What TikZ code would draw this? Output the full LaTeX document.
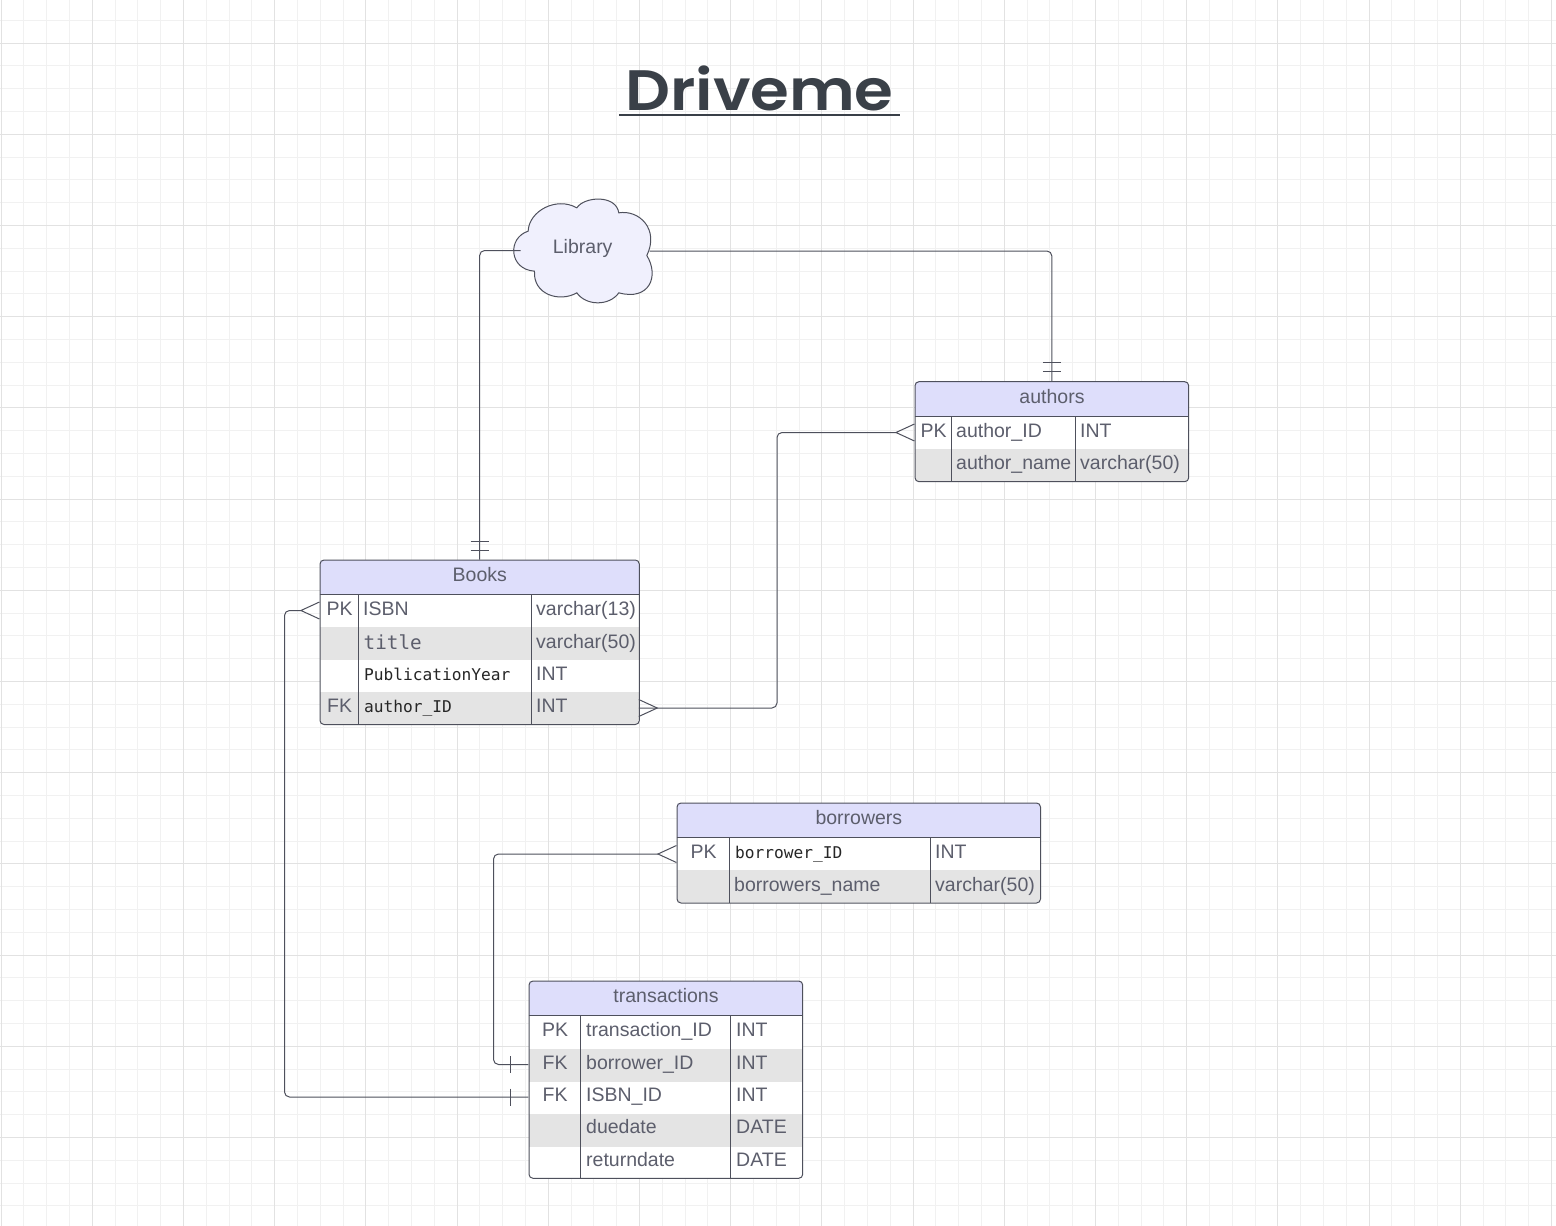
\documentclass[tikz,border=0pt]{standalone}
\usepackage{fontspec}
\usepackage{graphicx}
\setmainfont{Liberation Sans}
\newfontfamily\dvmono{DejaVu Sans Mono}
\newfontfamily\titlefont{Poppins SemiBold}
\definecolor{inkc}{HTML}{5C5E6C}
\definecolor{linec}{HTML}{4E505C}
\definecolor{headc}{HTML}{DEDEFB}
\definecolor{shadec}{HTML}{E4E4E4}
\definecolor{cloudc}{HTML}{F0F0FD}
\definecolor{titlec}{HTML}{3A4048}
\definecolor{gridminor}{HTML}{F1F1F1}
\definecolor{gridmajor}{HTML}{E2E2E2}
\newcounter{cellno}
\tikzset{
  erframe/.style={draw=linec,line width=1pt,rounded corners=4pt,inner sep=0pt,anchor=north west},
  errow/.style={inner sep=0pt,outer sep=0pt,anchor=center},
  txt/.style={text=inkc,font=\fontsize{19.5pt}{22pt}\selectfont,inner sep=0pt,outer sep=0pt,xshift=0.7pt,yshift=-0.3pt},
  cellL/.style={txt,anchor=base west},
  cellC/.style={txt,anchor=base},
  monoS/.style={cellL,text=black!85,font=\dvmono\fontsize{16.2pt}{19pt}\selectfont},
  monoB/.style={cellL,font=\dvmono\fontsize{19.3pt}{22pt}\selectfont},
  conn/.style={draw=linec,line width=1pt,rounded corners=5pt},
  termmark/.style={draw=linec,line width=1pt}
}
% name, x, y, w, h, header bottom, "col1/col2", shaded rows
\newcommand\ertable[8]{%
  \begin{scope}
    \clip[rounded corners=4pt] (#2,#3) rectangle ++(#4,#5);
    \fill[white] (#2,#3) rectangle ++(#4,#5);
    \fill[headc] (#2,#3) rectangle ++(#4,#6-#3);
    \foreach \a/\b in {#8}{\fill[shadec] (#2,\a) rectangle ++(#4,\b-\a);}
  \end{scope}
  \draw[linec,line width=1pt] (#2,#6) -- ++(#4,0);
  \foreach \c in {#7}{\draw[linec,line width=1pt] (\c,#6) -- (\c,#3+#5);}
  \node[erframe,minimum width=#4pt,minimum height=#5pt] (#1) at (#2,#3) {};
}
\newcommand\rownode[5]{\node[errow,minimum width=#4pt,minimum height=#5pt] (#1) at (#2,#3) {};}
\newcommand\cl[3]{\stepcounter{cellno}\node[cellL,name=t\thecellno] at (#1,#2) {#3};}
\newcommand\cc[3]{\stepcounter{cellno}\node[cellC,name=t\thecellno] at (#1,#2) {#3};}
\newcommand\ms[3]{\stepcounter{cellno}\node[monoS,name=t\thecellno] at (#1,#2) {#3};}
\newcommand\mb[3]{\stepcounter{cellno}\node[monoB,name=t\thecellno] at (#1,#2) {#3};}
\begin{document}
\begin{tikzpicture}[x=1pt,y=-1pt]
\useasboundingbox (0,0) rectangle (1556,1226);
\fill[white] (0,0) rectangle (1556,1226);
\begin{scope}[xshift=-0.5pt,yshift=0.5pt]
% grid
\foreach \i in {0,...,68}{\draw[gridminor,line width=1pt] ({1.5+22.8*\i},0) -- ({1.5+22.8*\i},1226);}
\foreach \i in {0,...,54}{\draw[gridminor,line width=1pt] (0,{-2.1+22.8*\i}) -- (1557,{-2.1+22.8*\i});}
\foreach \i in {0,...,17}{\draw[gridmajor,line width=1pt] ({1.5+91.2*\i},0) -- ({1.5+91.2*\i},1226);}
\foreach \i in {0,...,13}{\draw[gridmajor,line width=1pt] (0,{43.5+91.2*\i}) -- (1557,{43.5+91.2*\i});}
% title
\node[text=titlec,inner sep=0pt,outer sep=0pt,anchor=base,font=\titlefont\fontsize{57pt}{57pt}\selectfont] (title) at (760,111) {\scalebox{1.1}[1]{Driveme}};
\fill[titlec] (619.5,114) rectangle (900.5,116.5);
% cloud
\begin{scope}[shift={(460,180)},x=0.3333pt,y=-0.3333pt]
\draw[fill=cloudc,draw=linec,line width=1pt]
 (206,155) .. controls (208,95) and (290,50) .. (352,85)
 .. controls (375,50) and (470,45) .. (478,100)
 .. controls (540,90) and (600,150) .. (562,228)
 .. controls (600,290) and (570,365) .. (478,340)
 .. controls (450,380) and (380,380) .. (352,340)
 .. controls (300,370) and (220,345) .. (225,275)
 .. controls (148,270) and (143,175) .. (206,155) -- cycle;
\end{scope}
\node[cellC] (library) at (582.5,254) {Library};
\coordinate (libL) at (521,251);
\coordinate (libR) at (650,251.5);
% tables
\ertable{books}{320}{560}{319.3}{164.5}{595}{358.7,531.7}{627/660.5,692/725}
\rownode{bkA}{479.6}{611}{319.3}{32}
\rownode{bkD}{479.6}{708.5}{319.3}{32}
\cc{479.6}{581.7}{Books}
\cc{339.5}{616}{PK}\cl{363}{616}{ISBN}\cl{536}{616}{varchar(13)}
\mb{363.5}{649.5}{title}\cl{536}{648.3}{varchar(50)}
\ms{364}{681}{PublicationYear}\cl{536}{681}{INT}
\cc{339.5}{713}{FK}\ms{364}{713}{author\_ID}\cl{536}{713}{INT}

\ertable{authors}{915}{381.7}{273.7}{100}{416.7}{951.7,1075.7}{449/482}
\rownode{auA}{1051.8}{433}{273.7}{32}
\cc{1051.8}{403.5}{authors}
\cc{933.5}{437.5}{PK}\cl{956}{437.5}{author\_ID}\cl{1080}{437.5}{INT}
\cl{956}{470}{author\_name}\cl{1080}{470}{varchar(50)}

\ertable{borrowers}{677}{803}{363.5}{100}{838}{730,931}{870.5/903}
\rownode{boA}{858.7}{854.5}{363.5}{32}
\cc{858.7}{824.5}{borrowers}
\cc{703.5}{859}{PK}\ms{735}{859}{borrower\_ID}\cl{935}{859}{INT}
\cl{734}{891.5}{borrowers\_name}\cl{935}{891.5}{varchar(50)}

\ertable{trans}{529}{981}{273.7}{197.3}{1016.3}{581.3,731}{1049/1082.3,1114/1147.3}
\rownode{trB}{665.8}{1065}{273.7}{32}
\rownode{trC}{665.8}{1097.5}{273.7}{32}
\cc{665.8}{1003}{transactions}
\cc{555}{1036.7}{PK}\cl{586}{1036.7}{transaction\_ID}\cl{736}{1036.7}{INT}
\cc{555}{1069.3}{FK}\cl{586}{1069.3}{borrower\_ID}\cl{736}{1069.3}{INT}
\cc{555}{1101.7}{FK}\cl{586}{1101.7}{ISBN\_ID}\cl{736}{1101.7}{INT}
\cl{586}{1134}{duedate}\cl{736}{1134}{DATE}
\cl{586}{1166.7}{returndate}\cl{736}{1166.7}{DATE}
% connector bus coordinates
\coordinate (busA) at (777.5,0);
\coordinate (busB) at (285,0);
\coordinate (busC) at (494,0);
% connectors
\draw[conn] (libL) -| (books.north);
\draw[conn] (libR) -| (authors.north);
\draw[conn] (bkD.east) -- (bkD.east -| busA) -- (auA.west -| busA) -- ([xshift=-18pt]auA.west);
\draw[conn] ([xshift=-18pt]bkA.west) -- (bkA.west -| busB) -- (trC.west -| busB) -- (trC.west);
\draw[conn] ([xshift=-18pt]boA.west) -- (boA.west -| busC) -- (trB.west -| busC) -- (trB.west);
% one-side bars
\draw[termmark] ([shift={(-9pt,9pt)}]books.north) -- ++(18,0) ([shift={(-9pt,18pt)}]books.north) -- ++(18,0);
\draw[termmark] ([shift={(-9pt,9.5pt)}]authors.north) -- ++(18,0) ([shift={(-9pt,18.5pt)}]authors.north) -- ++(18,0);
\draw[termmark] ([shift={(-18pt,8.5pt)}]trB.west) -- ++(0,17);
\draw[termmark] ([shift={(-18pt,8.5pt)}]trC.west) -- ++(0,17);
% crow's feet
\draw[termmark] ([yshift=8.5pt]bkA.west) -- ++(-18.5,8.5) -- ++(18.5,8.5);
\draw[termmark] ([yshift=8.5pt]auA.west) -- ++(-18.5,8.5) -- ++(18.5,8.5);
\draw[termmark] ([yshift=8.5pt]boA.west) -- ++(-18.5,8.5) -- ++(18.5,8.5);
\draw[termmark] ([yshift=8.5pt]bkD.east) -- ++(18.5,8.5) -- ++(-18.5,8.5);
\end{scope}
\end{tikzpicture}
\end{document}
